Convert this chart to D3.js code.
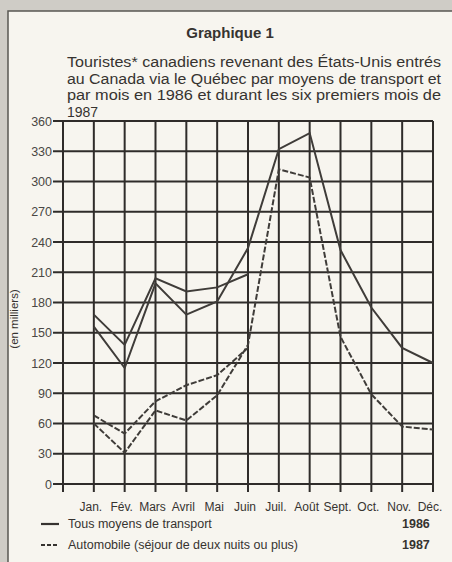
<!DOCTYPE html>
<meta charset="utf-8">
<title>Graphique 1</title>
<style>
  body { margin: 0; background: #cfccc6; }
  svg { display: block; font-family: "Liberation Sans", Arial, sans-serif; }
</style>
<svg width="452" height="562"></svg>
<script src="https://d3js.org/d3.v7.min.js"></script>
<script>

// data (thousands)
var months = ["Jan.", "Fév.", "Mars", "Avril", "Mai", "Juin", "Juil.", "Août", "Sept.", "Oct.", "Nov.", "Déc."];
var tous1986 = [156, 115, 199, 168, 181, 234, 332, 348, 232, 175, 135, 120];
var tous1987 = [168, 138, 204, 191, 195, 208];
var auto1986 = [60, 31, 73, 63, 88, 138, 312, 304, 146, 89, 57, 54];
var auto1987 = [68, 50, 82, 98, 108, 135];
var yTicks = d3.range(0, 361, 30);

var subtitle = [
  "Touristes* canadiens revenant des États-Unis entrés",
  "au Canada via le Québec par moyens de transport et",
  "par mois en 1986 et durant les six premiers mois de",
  "1987"
];
var legendItems = [
  { label: "Tous moyens de transport", year: "1986", dash: null },
  { label: "Automobile (séjour de deux nuits ou plus)", year: "1987", dash: "4,2" }
];

var ink = "#363330";
var svg = d3.select("svg");

// paper panel
svg.append("rect")
  .attr("x", 8).attr("y", 11).attr("width", 460).attr("height", 570)
  .attr("fill", "#f7f5ef").attr("stroke", "#5a5753").attr("stroke-width", 1.5);

// title + subtitle
svg.append("text")
  .attr("x", 230).attr("y", 38)
  .attr("text-anchor", "middle")
  .attr("font-size", 15).attr("font-weight", "bold")
  .attr("fill", ink)
  .text("Graphique 1");

svg.append("g").selectAll("text")
  .data(subtitle)
  .enter().append("text")
  .attr("x", 67)
  .attr("y", function(d, i) { return 67 + i * 16.5; })
  .attr("font-size", 14)
  .attr("fill", ink)
  .attr("textLength", function(d, i) { return i < 3 ? 374 : null; })
  .attr("lengthAdjust", "spacingAndGlyphs")
  .text(function(d) { return d; });

// scales
var x = d3.scaleLinear().domain([0, 12]).range([63, 433]);
var y = d3.scaleLinear().domain([0, 360]).range([484, 121]);

// grid
var grid = svg.append("g").attr("stroke", "#2f2c2a").attr("stroke-width", 2);

grid.selectAll("line.h")
  .data(yTicks)
  .enter().append("line")
  .attr("class", "h")
  .attr("x1", 53).attr("x2", x(12))
  .attr("y1", function(d) { return y(d); })
  .attr("y2", function(d) { return y(d); });

grid.selectAll("line.v")
  .data(d3.range(0, 13))
  .enter().append("line")
  .attr("class", "v")
  .attr("x1", function(d) { return x(d); })
  .attr("x2", function(d) { return x(d); })
  .attr("y1", y(360)).attr("y2", y(0) + 8);

// y labels
svg.append("g").selectAll("text")
  .data(yTicks)
  .enter().append("text")
  .attr("x", 52)
  .attr("y", function(d) { return y(d) + 4.5; })
  .attr("text-anchor", "end")
  .attr("font-size", 12.5)
  .attr("fill", "#4a4744")
  .text(function(d) { return d; });

svg.append("text")
  .attr("transform", "translate(18,319) rotate(-90)")
  .attr("text-anchor", "middle")
  .attr("font-size", 11.5)
  .attr("fill", ink)
  .text("(en milliers)");

// month labels
svg.append("g").selectAll("text")
  .data(months)
  .enter().append("text")
  .attr("x", function(d, i) { return x(i + 1) - 3; })
  .attr("y", 511)
  .attr("text-anchor", "middle")
  .attr("font-size", 12)
  .attr("fill", ink)
  .text(function(d) { return d; });

// series
var line = d3.line()
  .x(function(d, i) { return x(i + 1); })
  .y(function(d) { return y(d); });

var series = [
  { values: tous1986, dash: null },
  { values: tous1987, dash: null },
  { values: auto1986, dash: "6,2" },
  { values: auto1987, dash: "6,2" }
];

svg.append("g").selectAll("path")
  .data(series)
  .enter().append("path")
  .attr("d", function(d) { return line(d.values); })
  .attr("fill", "none")
  .attr("stroke", "#3f3c39")
  .attr("stroke-width", 2)
  .attr("stroke-dasharray", function(d) { return d.dash; });

// legend
var leg = svg.append("g").selectAll("g")
  .data(legendItems)
  .enter().append("g")
  .attr("transform", function(d, i) { return "translate(0," + (528 + i * 21) + ")"; });

leg.append("line")
  .attr("x1", 41).attr("x2", 59)
  .attr("y1", -4).attr("y2", -4)
  .attr("stroke", ink).attr("stroke-width", 2.2)
  .attr("stroke-dasharray", function(d) { return d.dash; });

leg.append("text")
  .attr("x", 68)
  .attr("font-size", 12.5)
  .attr("fill", ink)
  .text(function(d) { return d.label; });

leg.append("text")
  .attr("x", 402)
  .attr("font-size", 12.5)
  .attr("font-weight", "bold")
  .attr("fill", ink)
  .text(function(d) { return d.year; });

</script>
